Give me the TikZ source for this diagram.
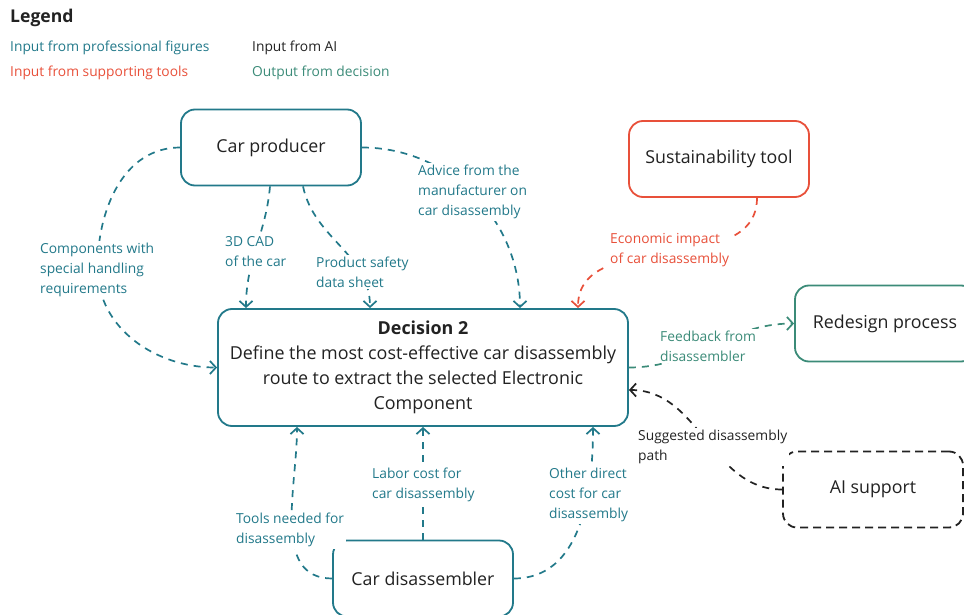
\documentclass[tikz,border=0pt]{standalone}
\usepackage{fontspec}
\setmainfont{Open Sans}
\usetikzlibrary{arrows.meta}
\definecolor{proteal}{HTML}{22798A}
\definecolor{toolred}{HTML}{E8503A}
\definecolor{outgreen}{HTML}{3B8B78}
\definecolor{inkgray}{HTML}{222222}

\begin{document}
\begin{tikzpicture}[x=1pt,y=1pt,
  box/.style={draw=proteal, line width=1.8pt, rounded corners=14pt,
    minimum width=180pt, minimum height=76pt, fill=white, text=inkgray,
    font=\fontsize{17.8}{22}\selectfont, inner sep=0pt},
  flow/.style={line width=1.7pt, dash pattern=on 7pt off 6pt,
    -{Straight Barb[length=6pt,width=13pt]}},
  lbl/.style={fill=white, align=left, anchor=west,
    font=\fontsize{13.8}{20}\selectfont, inner sep=2pt},
  legitem/.style={anchor=base west, inner sep=0pt,
    font=\fontsize{13.8}{16}\selectfont}]

\useasboundingbox (0,0) rectangle (964,-615);
\clip (0,0) rectangle (964,-615);

% Legend
\node[anchor=base west, inner sep=0pt, text=inkgray,
  font=\bfseries\fontsize{17.6}{20}\selectfont] (legtitle) at (10,-23) {Legend};
\node[legitem, text=proteal] (leg1) at (10,-52) {Input from professional figures};
\node[legitem, text=inkgray] (leg2) at (252,-52) {Input from AI};
\node[legitem, text=toolred] (leg3) at (10,-77) {Input from supporting tools};
\node[legitem, text=outgreen] (leg4) at (252,-77) {Output from decision};

% Boxes
\node[box] (cp) at (271,-147.5) {Car producer};
\node[box, draw=toolred] (st) at (719,-159) {Sustainability tool};
\node[box, minimum width=410pt, minimum height=117pt, align=center,
  font=\fontsize{17.9}{25}\selectfont] (dec) at (423,-367.5)
  {\textbf{Decision 2}\\Define the most cost-effective car disassembly\\route to extract the selected Electronic\\Component};
\node[box, draw=outgreen] (rd) at (885,-323.5) {Redesign process};
\node[box, draw=inkgray, dash pattern=on 8pt off 5pt] (ai) at (873,-489.5) {AI support};
\node[box] (cd) at (423,-578.5) {Car disassembler};

% Connectors
\coordinate (bendA) at (97.5,-268);
\draw[flow, proteal] (cp.west) to[out=180,in=90] (bendA) to[out=-90,in=180] (dec.west);
\draw[flow, proteal] ([xshift=-1pt]cp.south) to[out=-95,in=90] ([xshift=-177pt]dec.north);
\draw[flow, proteal] ([xshift=32pt]cp.south) to[out=-78,in=90] ([xshift=-53pt]dec.north);
\draw[flow, proteal] (cp.east) to[out=0,in=90] ([xshift=97pt]dec.north);
\draw[flow, toolred] ([xshift=38pt]st.south) to[out=-90,in=90] ([xshift=155pt]dec.north);
\draw[flow, proteal] (cd.west) to[out=180,in=-90] ([xshift=-126pt]dec.south);
\draw[flow, proteal] (cd.north) -- (dec.south);
\draw[flow, proteal] (cd.east) to[out=0,in=-90] ([xshift=170pt]dec.south);
\draw[flow, outgreen] (dec.east) to[out=0,in=180] (rd.west);
\draw[flow, inkgray] (ai.west) to[out=180,in=0] ([yshift=-22.5pt]dec.east);

% Connector labels
\node[lbl, text=proteal] (lblA) at (38,-270) {Components with\\special handling\\requirements};
\node[lbl, text=proteal] (lblB) at (223,-252) {3D CAD\\of the car};
\node[lbl, text=proteal] (lblC) at (314,-272) {Product safety\\data sheet};
\node[lbl, text=proteal] (lblD) at (416,-192) {Advice from the\\manufacturer on\\car disassembly};
\node[lbl, text=toolred] (lblR) at (608,-250) {Economic impact\\of car disassembly};
\node[lbl, text=outgreen] (lblF) at (658,-346) {Feedback from\\disassembler};
\node[lbl, text=inkgray] (lblS) at (636,-447) {Suggested disassembly\\path};
\node[lbl, text=proteal] (lblT) at (234,-530) {Tools needed for\\disassembly};
\node[lbl, text=proteal] (lblL) at (370,-485) {Labor cost for\\car disassembly};
\node[lbl, text=proteal] (lblO) at (547,-495) {Other direct\\cost for car\\disassembly};

\end{tikzpicture}
\end{document}
